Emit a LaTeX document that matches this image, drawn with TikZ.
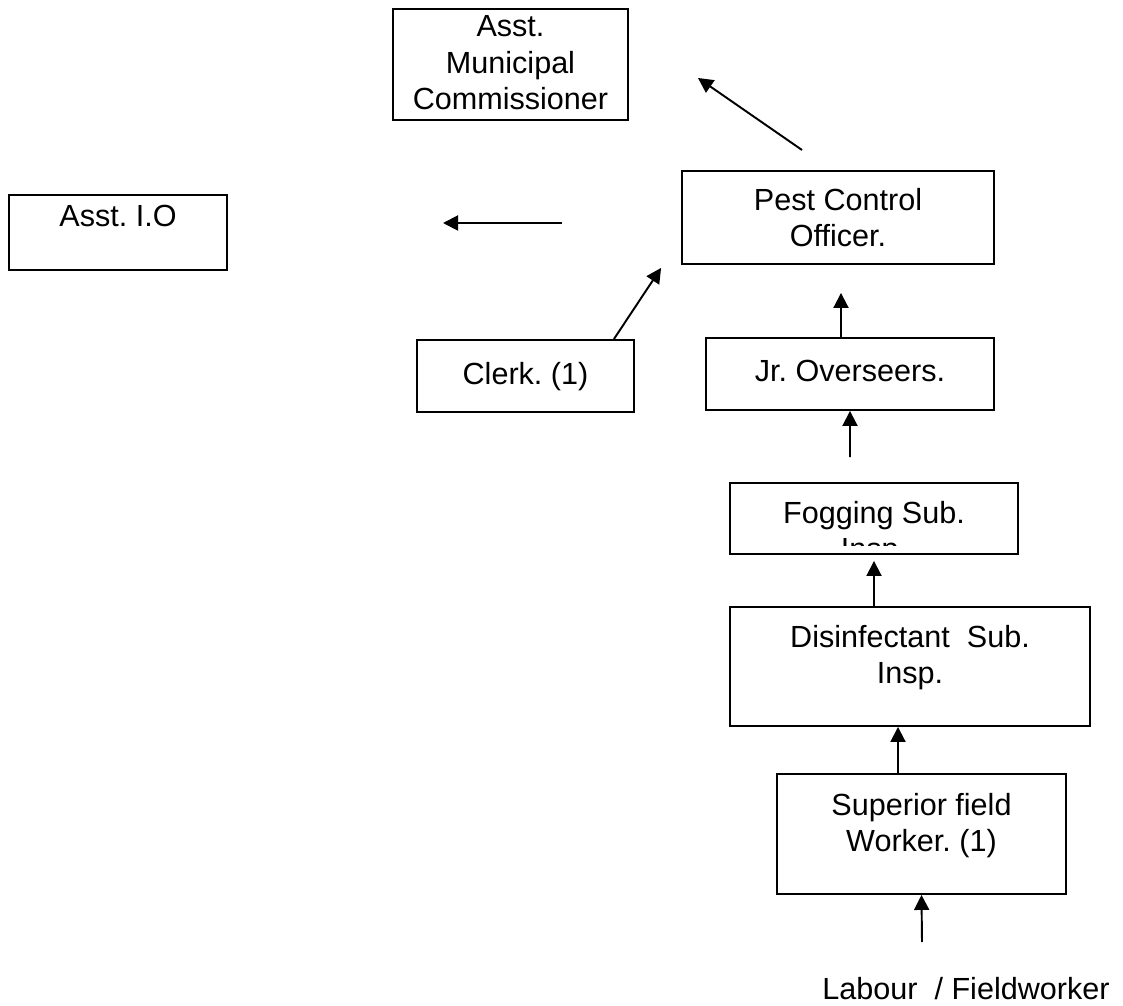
\documentclass[tikz,border=0pt]{standalone}
\usepackage{fontspec}
\setmainfont{Liberation Sans}
\usepackage{tikz}
\usetikzlibrary{positioning}
\usetikzlibrary{arrows.meta}
\frenchspacing

\begin{document}
\begin{tikzpicture}
    [
    x=0.02cm, y=-0.02cm,
    box/.style={rectangle,draw,line width=1.1pt,inner sep=0pt},
    txt/.style={align=center,inner sep=0pt,font=\fontsize{17.4}{20.6}\selectfont},
    arr/.style={line width=1.1pt,-{Triangle[length=0.3cm,width=0.3cm]}}
    ]
    \useasboundingbox (0,0) rectangle (1123,1006);
    \node (amc) at (510.5,64.5) [box,minimum width=4.70cm,minimum height=2.22cm] {};
    \node (aio) at (118,232.5) [box,minimum width=4.36cm,minimum height=1.50cm] {};
    \node (pco) at (838,217.5) [box,minimum width=6.24cm,minimum height=1.86cm] {};
    \node (clerk) at (525.5,376) [box,minimum width=4.34cm,minimum height=1.44cm] {};
    \node (jr) at (850,374) [box,minimum width=5.76cm,minimum height=1.44cm] {};
    \node (fog) at (874,518.5) [box,minimum width=5.76cm,minimum height=1.42cm] {};
    \node (dis) at (910,666.5) [box,minimum width=7.20cm,minimum height=2.38cm] {};
    \node (sup) at (921.5,834) [box,minimum width=5.78cm,minimum height=2.40cm] {};
    \node (amctxt) [txt,below=0.15cm of amc.north] {Asst.\\Municipal\\Commissioner};
    \node (aiotxt) [txt,below=0.21cm of aio.north] {Asst. I.O};
    \node (pcotxt) [txt,below=0.35cm of pco.north] {Pest Control\\Officer.};
    \node (clerktxt) [txt,below=0.45cm of clerk.north] {Clerk. (1)};
    \node (jrtxt) [txt,below=0.45cm of jr.north] {Jr. Overseers.};
    \begin{scope}
      \clip (fog.north west) rectangle ([yshift=0.18cm]fog.south east);
      \node (fogtxt) [txt,below=0.37cm of fog.north] {Fogging Sub.\\Insp.};
    \end{scope}
    \node (distxt) [txt,below=0.37cm of dis.north] {Disinfectant\ \ Sub.\\Insp.};
    \node (suptxt) [txt,below=0.39cm of sup.north] {Superior field\\Worker. (1)};
    \node (lab) at (966,999) [txt,anchor=base] {Labour\ \ / Fieldworker};
    \coordinate (amctail) at (802,150);
    \coordinate (amchead) at (698,78);
    \coordinate (aiotail) at (562,223);
    \coordinate (aiohead) at (443,223);
    \coordinate (labtop) at (922,942);
    \draw [arr] (amctail) to (amchead);
    \draw [arr] (aiotail) to (aiohead);
    \draw [arr] ([xshift=-0.42cm]clerk.north east) to ([xshift=-0.4cm,yshift=-0.06cm]pco.south west);
    \draw [arr] ([xshift=-0.18cm]jr.north) to ([xshift=0.06cm,yshift=-0.56cm]pco.south);
    \draw [arr] ([xshift=-0.48cm,yshift=0.5cm]fog.north) to (jr.south);
    \draw [arr] ([xshift=-0.72cm]dis.north) to ([yshift=-0.12cm]fog.south);
    \draw [arr] ([xshift=-0.47cm]sup.north) to ([xshift=-0.24cm]dis.south);
    \draw [arr] (labtop) to (sup.south);
\end{tikzpicture}
\end{document}
